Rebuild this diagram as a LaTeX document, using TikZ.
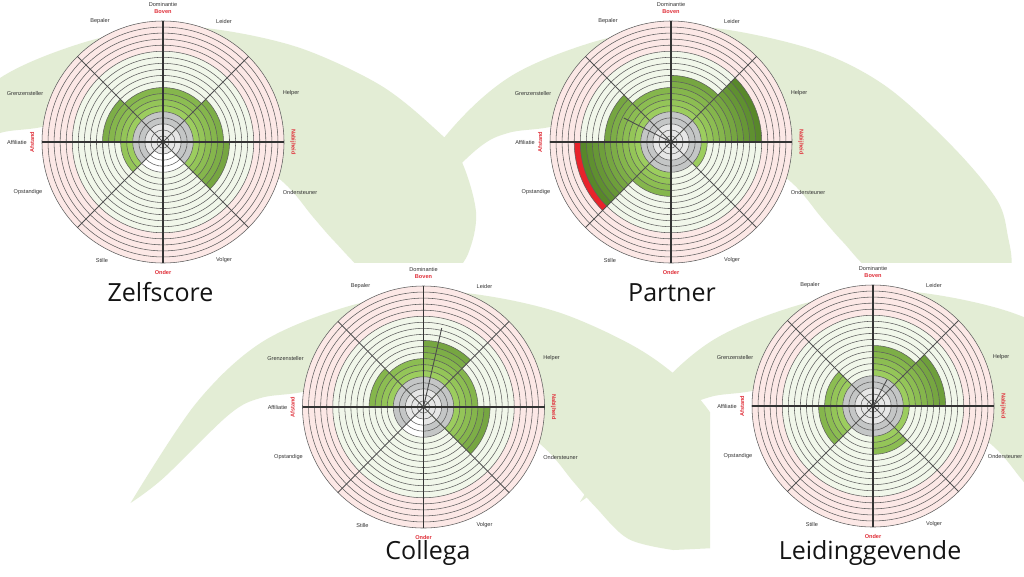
\documentclass[tikz,border=0pt]{standalone}
\usepackage{fontspec}
\setmainfont{Liberation Sans}
\newfontfamily\titlefont{Open Sans}
\definecolor{bandc}{HTML}{E3EDD5}
\definecolor{pinkz}{HTML}{FCE8E6}
\definecolor{palez}{HTML}{F1F7EA}
\definecolor{grayone}{HTML}{E6E6E6}
\definecolor{graytwo}{HTML}{C4C6C6}
\definecolor{glight}{HTML}{9CCD5E}
\definecolor{gdark}{HTML}{58882A}
\definecolor{redr}{HTML}{E8232B}
\definecolor{ringc}{HTML}{5E5E5E}
\definecolor{labred}{HTML}{E0303A}
\tikzset{
  smalllab/.style={font=\fontsize{5.6}{6}\selectfont, text=black!80, inner sep=0pt},
  redlab/.style={font=\fontsize{5.6}{6}\selectfont\bfseries, text=labred, inner sep=0pt},
  titlelab/.style={font=\titlefont\fontsize{25}{30}\selectfont, text=black!92, anchor=base, inner sep=0pt},
  ringline/.style={draw=ringc, line width=0.55pt},
  spokeline/.style={draw=ringc!85!black, line width=0.75pt},
  axisline/.style={draw=black!80, line width=1.3pt},
  vecline/.style={draw=black!70, line width=0.9pt},
}
\newcommand\roos[5]{%
  \begin{scope}[shift={(#2,-#3)}]
    \coordinate (#1-c) at (0,0);
    \fill[pinkz] (0,0) circle (121);
    \fill[palez] (0,0) circle (90.75);
    \fill[white] (0,0) circle (30.25);
    \foreach \sc [count=\i from 0] in {#4} {
      \pgfmathsetmacro\aa{45*\i}
      \pgfmathsetmacro\bb{45*\i+45}
      \foreach \j in {1,...,\sc} {
        \pgfmathtruncatemacro\k{\sc+1-\j}
        \pgfmathsetmacro\rr{\k*6.05}
        \ifnum\k<4 \def\cc{grayone}\else
          \ifnum\k<6 \def\cc{graytwo}\else
            \ifnum\k<16 \pgfmathtruncatemacro\pct{100-(\k-6)*100/9}\edef\cc{glight!\pct!gdark}\else
              \def\cc{redr}\fi\fi\fi
        \fill[\cc] (0,0) -- (\aa:\rr) arc[start angle=\aa, end angle=\bb, radius=\rr] -- cycle;
      }
    }
    \foreach \k in {1,...,20} {
      \pgfmathsetmacro\rr{\k*6.05}
      \draw[ringline] (0,0) circle (\rr);
    }
    \foreach \a in {45,135,225,315} \draw[spokeline] (0,0) -- (\a:121);
    \draw[axisline] (-121,0) -- (121,0);
    \draw[axisline] (0,-121) -- (0,121);
    \node[smalllab] (#1-dom) at (0,138) {Dominantie};
    \node[redlab] (#1-bov) at (0,130) {Boven};
    \node[smalllab] (#1-lei) at (61,121) {Leider};
    \node[smalllab] (#1-bep) at (-63,121) {Bepaler};
    \node[smalllab] (#1-gre) at (-138,49) {Grenzensteller};
    \node[smalllab] (#1-hel) at (128,49) {Helper};
    \node[smalllab] (#1-aff) at (-146,0) {Affiliatie};
    \node[redlab, rotate=90] (#1-afs) at (-131,0) {Afstand};
    \node[redlab, rotate=-90] (#1-nab) at (130,0) {Nabijheid};
    \node[smalllab] (#1-ops) at (-135,-50) {Opstandige};
    \node[smalllab] (#1-ond) at (#5,-50) {Ondersteuner};
    \node[smalllab] (#1-sti) at (-61,-118) {Stille};
    \node[smalllab] (#1-vol) at (61,-118) {Volger};
    \node[redlab] (#1-ondr) at (0,-130) {Onder};
  \end{scope}
}
\begin{document}
\begin{tikzpicture}[x=1pt,y=1pt]
\useasboundingbox (0,0) rectangle (1024,-576);
\fill[white] (0,0) rectangle (1024,-576);
% background bands
\begin{scope}
  \clip (0,0) rectangle (1024,-262);
  \begin{scope}[shift={(163,-142)}, yscale=-1]
    \fill[bandc] plot[smooth, tension=0.55] coordinates {(-293,96) (-228,-3) (-163,-64) (-81,-99) (0,-115) (64,-111) (140,-93) (217,-57) (270,-15) (297,16) (313,70) (305,112) (285,140)}
      -- plot[smooth, tension=0.55] coordinates {(245,145) (205,132) (172,100) (150,75) (120,40) (60,-5) (0,-28) (-60,-30) (-121,-15) (-163,-9) (-195,8) (-260,71) (-293,96)} -- cycle;
  \end{scope}
  \begin{scope}[shift={(671,-142)}, yscale=-1]
    \fill[bandc] plot[smooth, tension=0.55] coordinates {(-293,96) (-228,-3) (-163,-64) (-81,-99) (0,-115) (64,-111) (149,-90) (216,-55) (282,5) (326,58) (337,95) (340,125) (325,150)}
      -- plot[smooth, tension=0.55] coordinates {(270,155) (205,132) (172,100) (150,75) (120,40) (60,-5) (0,-28) (-60,-30) (-121,-15) (-163,-9) (-195,8) (-260,71) (-293,96)} -- cycle;
  \end{scope}
\end{scope}
\begin{scope}
  \clip (0,-262) rectangle (710,-576);
  \begin{scope}[shift={(423.5,-407)}, yscale=-1]
    \fill[bandc] plot[smooth, tension=0.55] coordinates {(-293,96) (-228,-3) (-163,-64) (-81,-99) (0,-115) (64,-111) (140,-93) (217,-57) (270,-15) (305,35) (322,85) (316,125) (292,141)}
      -- plot[smooth, tension=0.55] coordinates {(250,143) (205,132) (172,100) (150,75) (120,40) (60,-5) (0,-28) (-60,-30) (-121,-15) (-163,-9) (-195,8) (-260,71) (-293,96)} -- cycle;
  \end{scope}
\end{scope}
\begin{scope}
  \clip (0,-262) rectangle (1024,-576);
  \begin{scope}[shift={(873,-406)}, yscale=-1]
    \fill[bandc] plot[smooth, tension=0.55] coordinates {(-293,96) (-228,-3) (-163,-64) (-81,-99) (0,-115) (64,-111) (140,-93) (217,-57) (270,-15) (305,35) (322,85) (316,125) (292,141)}
      -- plot[smooth, tension=0.55] coordinates {(250,143) (205,132) (172,100) (150,75) (120,40) (60,-5) (0,-28) (-60,-30) (-121,-15) (-163,-9) (-195,8) (-260,71) (-293,96)} -- cycle;
  \end{scope}
\end{scope}
% charts
\roos{za}{163}{142}{10,9,9,10,7,2,2,11}{137}
\roos{pa}{671}{142}{15,11,9,11,16,9,5,6}{137}
\roos{co}{423.5}{407}{9,11,8,9,5,2,5,11}{137}
\roos{le}{873}{406}{12,10,5,8,9,5,8,6}{132}
% resultant lines
\begin{scope}[shift={(671,-142)}]
  \coordinate (pa-v) at (153:53);
  \draw[vecline] (pa-c) -- (pa-v);
\end{scope}
\begin{scope}[shift={(423.5,-407)}]
  \coordinate (co-v) at (77:81);
  \draw[vecline] (co-c) -- (co-v);
\end{scope}
\begin{scope}[shift={(873,-406)}]
  \coordinate (le-v) at (62:30);
  \draw[vecline] (le-c) -- (le-v);
\end{scope}
% titles
\node[titlelab] (t1) at (160.5,-301) {Zelfscore};
\node[titlelab] (t2) at (672,-301) {Partner};
\node[titlelab] (t3) at (428,-559) {Collega};
\node[titlelab] (t4) at (870,-559) {Leidinggevende};
\end{tikzpicture}
\end{document}
